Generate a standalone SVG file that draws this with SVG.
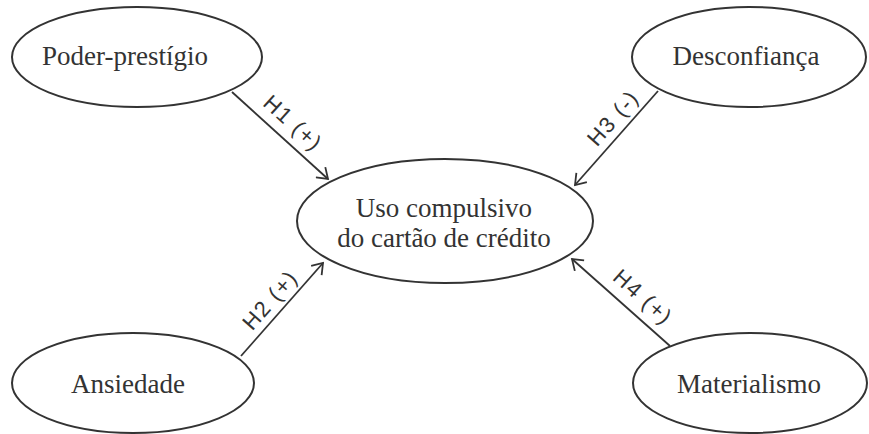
<svg xmlns="http://www.w3.org/2000/svg" width="869" height="434" viewBox="0 0 869 434">
<style>
.node ellipse{fill:#fff;stroke:#333;stroke-width:2}
.node text{font-family:"Liberation Serif","Times New Roman",serif;font-size:27px;fill:#333;text-anchor:middle}
.conn line{stroke:#333;stroke-width:1.8}
.lbl{font-family:"Liberation Sans",Arial,sans-serif;font-size:22px;fill:#333;text-anchor:middle;dominant-baseline:central;letter-spacing:1.5px}
</style>
<defs>
<marker id="arr" markerUnits="userSpaceOnUse" markerWidth="16" markerHeight="16" viewBox="0 0 16 16" refX="14" refY="8" orient="auto">
<path d="M4,1 L14,8 L4,15" fill="none" stroke="#333" stroke-width="1.8"/>
</marker>
</defs>
<rect width="869" height="434" fill="#fff"/>
<g id="connectors" class="conn">
<line x1="232" y1="92" x2="328" y2="179" marker-end="url(#arr)"/>
<line x1="241" y1="356" x2="323" y2="263" marker-end="url(#arr)"/>
<line x1="658" y1="91" x2="575" y2="185" marker-end="url(#arr)"/>
<line x1="670" y1="346" x2="572" y2="259" marker-end="url(#arr)"/>
<text class="lbl" transform="translate(293,123) rotate(42.2)">H1 (+)</text>
<text class="lbl" transform="translate(270,300) rotate(-48.6)">H2 (+)</text>
<text class="lbl" transform="translate(613,118) rotate(-48.6)">H3 (-)</text>
<text class="lbl" transform="translate(643,297) rotate(41.6)">H4 (+)</text>
</g>
<g id="poder" class="node">
<ellipse cx="137" cy="57" rx="125" ry="50"/>
<text x="125" y="65">Poder-prestígio</text>
</g>
<g id="desconfianca" class="node">
<ellipse cx="749" cy="57" rx="117" ry="50"/>
<text x="746" y="65">Desconfiança</text>
</g>
<g id="uso" class="node">
<ellipse cx="445" cy="221" rx="148" ry="62"/>
<text x="444" y="217">Uso compulsivo</text>
<text x="444" y="247">do cartão de crédito</text>
</g>
<g id="ansiedade" class="node">
<ellipse cx="133" cy="383" rx="121" ry="50"/>
<text x="128" y="393">Ansiedade</text>
</g>
<g id="materialismo" class="node">
<ellipse cx="750" cy="383" rx="117" ry="50"/>
<text x="749" y="393">Materialismo</text>
</g>
</svg>
